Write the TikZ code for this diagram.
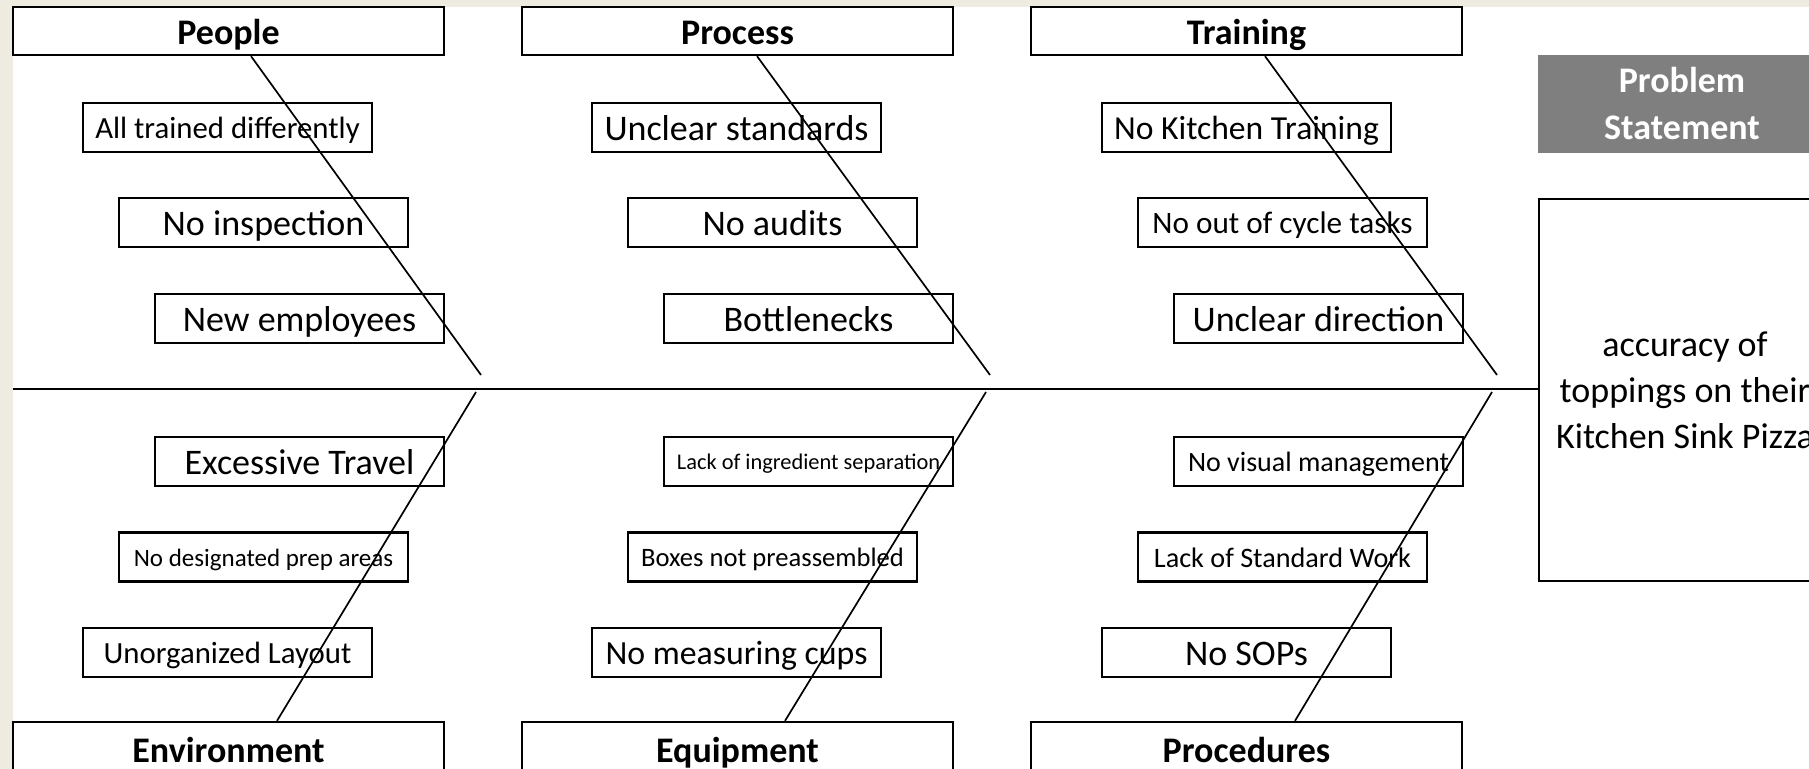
\documentclass[tikz,border=0pt]{standalone}
\usepackage{fontspec}
\setmainfont{Carlito}
\definecolor{slidetan}{HTML}{EEECE1}
\definecolor{psgray}{HTML}{7F7F7F}
\begin{document}
\begin{tikzpicture}[x=0.5pt,y=-0.5pt,
  hdr/.style={draw, line width=1.15pt, minimum width=215.5pt, minimum height=24pt, inner sep=0pt,
    font=\bfseries\fontsize{18}{22}\selectfont, text height=14pt, text depth=0pt},
  hdrlow/.style={hdr, minimum height=34pt, text height=6pt},
  itembox/.style={draw, line width=1.15pt, minimum width=144.5pt, minimum height=24.5pt, inner sep=0pt,
    font=\fontsize{#1}{#1}\selectfont, text height={0.644*#1pt+1pt}, text depth=0pt},
  bone/.style={line width=0.85pt},
  spine/.style={line width=1.2pt},
  psbox/.style={fill=psgray, text=white, minimum width=144pt, minimum height=49pt, inner sep=0pt,
    align=center, font=\bfseries\fontsize{18}{23.5}\selectfont},
  probbox/.style={draw, line width=1.35pt, fill=white, minimum width=146pt, minimum height=191pt, inner sep=0pt,
    align=center, font=\fontsize{18}{23}\selectfont}
]
\useasboundingbox (0,0) rectangle (1809,769);
\clip (0,0) rectangle (1809,769);
\fill[slidetan] (0,0) rectangle (1809,769);
\fill[white] (13,7) rectangle (1809,769);

% category headers
\node[hdr] (people) at (228.5,31) {People};
\node[hdr] (process) at (737.5,31) {Process};
\node[hdr] (training) at (1246.5,31) {Training};
\node[hdrlow] (environment) at (228.5,756) {Environment};
\node[hdrlow] (equipment) at (737.5,756) {Equipment};
\node[hdrlow] (procedures) at (1246.5,756) {Procedures};

% problem statement
\node[psbox] (pstitle) at (1682,104) {Problem\\Statement};
\node[probbox] (prob) at (1685,390) {accuracy of\\toppings on their\\Kitchen Sink Pizza};

% People causes
\node[itembox=15.4] (pa1) at (227.5,127.5) {All trained differently};
\node[itembox=18] (pa2) at (263.5,222.5) {No inspection};
\node[itembox=18] (pa3) at (299.5,318.5) {New employees};
% Environment causes
\node[itembox=18] (ea1) at (299.5,461.5) {Excessive Travel};
\node[itembox=12.5] (ea2) at (263.5,557) {No designated prep areas};
\node[itembox=15.4] (ea3) at (227.5,652.5) {Unorganized Layout};

% Process causes
\node[itembox=18] (pr1) at (736.5,127.5) {Unclear standards};
\node[itembox=18] (pr2) at (772.5,222.5) {No audits};
\node[itembox=18] (pr3) at (808.5,318.5) {Bottlenecks};
% Equipment causes
\node[itembox=11.2] (eq1) at (808.5,461.5) {Lack of ingredient separation};
\node[itembox=13.3] (eq2) at (772.5,557) {Boxes not preassembled};
\node[itembox=16.9] (eq3) at (736.5,652.5) {No measuring cups};

% Training causes
\node[itembox=16.8] (tr1) at (1246.5,127.5) {No Kitchen Training};
\node[itembox=15.6] (tr2) at (1282.5,222.5) {No out of cycle tasks};
\node[itembox=18] (tr3) at (1318.5,318.5) {Unclear direction};
% Procedures causes
\node[itembox=14] (pc1) at (1318.5,461.5) {No visual management};
\node[itembox=14.1] (pc2) at (1282.5,557) {Lack of Standard Work};
\node[itembox=18] (pc3) at (1246.5,652.5) {No SOPs};

% spine
\coordinate (spL) at (13,389);
\draw[spine] (spL) -- (spL -| prob.west);

% bone ends
\coordinate (peE) at (481,375);
\coordinate (prE) at (990,375);
\coordinate (trE) at (1497,375);
\coordinate (enE) at (476,392);
\coordinate (eqE) at (986,392);
\coordinate (pcE) at (1492,392);

% bones
\draw[bone] ([xshift=11.25pt]people.south) -- (peE);
\draw[bone] ([xshift=9.75pt]process.south) -- (prE);
\draw[bone] ([xshift=9.25pt]training.south) -- (trE);
\draw[bone] ([xshift=24.25pt]environment.north) -- (enE);
\draw[bone] ([xshift=23.75pt]equipment.north) -- (eqE);
\draw[bone] ([xshift=24.25pt]procedures.north) -- (pcE);
\end{tikzpicture}
\end{document}
